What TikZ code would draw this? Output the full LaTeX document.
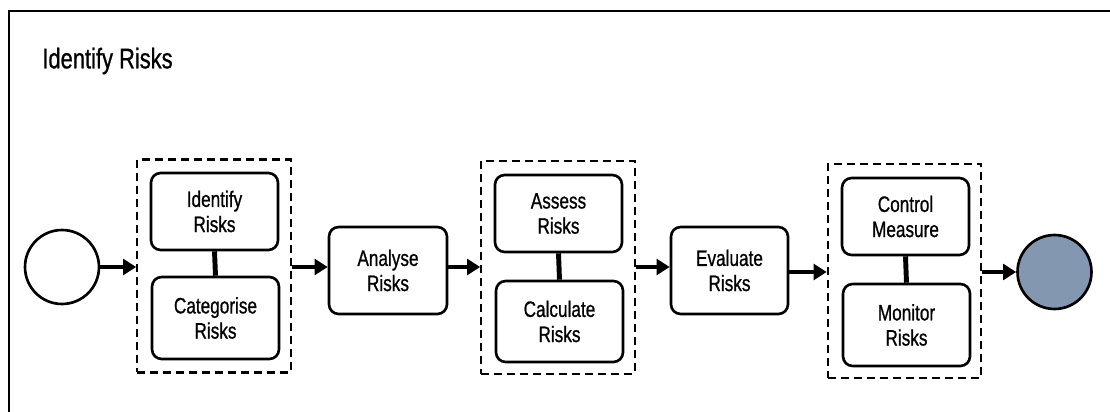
\documentclass[tikz,border=0pt]{standalone}
\usepackage{fontspec}
\setmainfont{Liberation Sans}[FakeStretch=0.77, FakeBold=0.8]
\usepackage{tikz}
\usetikzlibrary{arrows.meta,positioning}
\definecolor{endslate}{RGB}{132,151,176}

\begin{document}
\begin{tikzpicture}[x=0.02cm, y=-0.02cm, font=\fontsize{12.7}{14.3}\selectfont,
  task/.style={draw, line width=1.5pt, rounded corners=5.5pt, minimum width=2.54cm,
    minimum height=1.58cm, align=center, inner sep=1pt},
  group/.style={draw, line width=1.2pt, dash pattern=on 4.6pt off 2.8pt,
    minimum width=3.07cm, minimum height=4.26cm, inner sep=0pt},
  event/.style={circle, draw, line width=1.5pt, minimum size=1.48cm, inner sep=0pt},
  flow/.style={line width=2.8pt, -{Triangle[length=7.5pt,width=9pt]}},
  link/.style={line width=2.8pt}]
\useasboundingbox (0,0) rectangle (1110,412);
% Frame (top and left edges only)
\draw[line width=1.5pt] (1110,11) -- (9,11) -- (9,412);
% Title
\node[font=\fontsize{16.2}{18}\selectfont, anchor=west, inner sep=0pt] (title) at (42,61) {Identify Risks};
% Start and end events
\node[event] (start) at (62,267) {};
\node[event, fill=endslate] (finish) at (1054.5,272) {};
% Levels of the flow arrows
\coordinate (rowa) at (0,267);
\coordinate (rowb) at (0,272);
% Dashed groups
\node[group] (grp1) at (214,266) {};
\node[group] (grp2) at (558,267.5) {};
\node[group, minimum height=4.28cm] (grp3) at (904.5,271) {};
% Tasks in the groups
\node[task, minimum height=1.54cm] (idr)  at (214.5,211.5) {Identify\\Risks};
\node[task, minimum height=1.64cm] (cat)  at (215.5,318)   {Categorise\\Risks};
\node[task, minimum height=1.54cm] (ass)  at (558.5,213.5) {Assess\\Risks};
\node[task, minimum height=1.62cm] (calc) at (559.5,321.5) {Calculate\\Risks};
\node[task, minimum height=1.54cm] (ctl)  at (905.5,216.5) {Control\\Measure};
\node[task, minimum height=1.64cm] (mon)  at (906.5,325)   {Monitor\\Risks};
% Single tasks
\node[task, minimum width=2.36cm, minimum height=1.74cm] (ana) at (388,270.5) {Analyse\\Risks};
\node[task, minimum width=2.34cm, minimum height=1.74cm] (eva) at (729.5,270.5) {Evaluate\\Risks};
% Links inside the groups
\draw[link] (idr.south) -- (cat.north);
\draw[link] (ass.south) -- (calc.north);
\draw[link] (ctl.south) -- (mon.north);
% Sequence flow
\draw[flow] (start.east) -- (start.east -| grp1.west);
\draw[flow] (grp1.east |- rowa) -- (ana.west |- rowa);
\draw[flow] (ana.east |- rowa) -- (grp2.west |- rowa);
\draw[flow] (grp2.east |- rowa) -- (eva.west |- rowa);
\draw[flow] (eva.east |- rowb) -- (grp3.west |- rowb);
\draw[flow] (grp3.east |- finish.west) -- (finish.west);
\end{tikzpicture}
\end{document}
